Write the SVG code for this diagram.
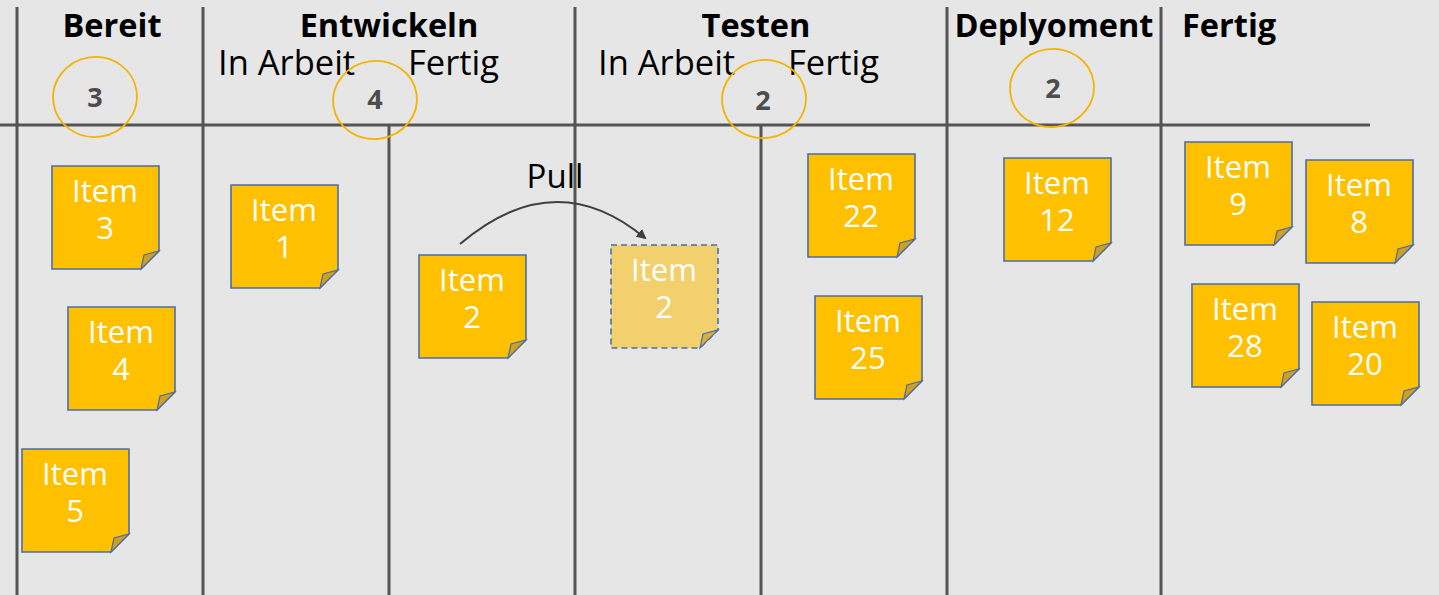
<svg xmlns="http://www.w3.org/2000/svg" width="1439" height="595" viewBox="0 0 1439 595">
<style>
.ln{stroke:#555;stroke-width:3;fill:none}
.hd{font-family:"Open Sans","Liberation Sans",sans-serif;font-weight:bold;font-size:32.5px;fill:#000}
.sub{font-family:"Open Sans","Liberation Sans",sans-serif;font-size:34.5px;fill:#000}
.wip{fill:none;stroke:#f5b400;stroke-width:1.8}
.wn{font-family:"Open Sans","Liberation Sans",sans-serif;font-weight:bold;font-size:27px;fill:#4d4d4d;text-anchor:middle}
.body{fill:#ffc000;stroke:#4b6ea8;stroke-width:1.6}
.fold{fill:#cfa022;stroke:#4b6ea8;stroke-width:1.2}
.ghost .body{fill:#f2d06e;stroke-dasharray:6 4}
.ghost .fold{fill:#d9b040}
.nt{font-family:"Open Sans","Liberation Sans",sans-serif;font-size:31px;fill:#fff;text-anchor:middle}
</style>
<defs>
<g id="note">
<path class="body" d="M0,0 H107 V85 L89,103 H0 Z"/>
<path class="fold" d="M89,103 L92,89 L107,85 Z"/>
</g>
<marker id="ah" markerWidth="10" markerHeight="10" refX="8" refY="5" orient="auto" markerUnits="userSpaceOnUse" viewBox="0 0 10 10">
<path d="M0,0 L10,5 L0,10 Z" fill="#404040"/>
</marker>
</defs>
<rect width="1439" height="595" fill="#e6e6e6"/>
<g id="grid">
<line class="ln" x1="0" y1="125" x2="1370" y2="125"/>
<line class="ln" x1="17" y1="7" x2="17" y2="595"/>
<line class="ln" x1="203" y1="7" x2="203" y2="595"/>
<line class="ln" x1="389" y1="125" x2="389" y2="595"/>
<line class="ln" x1="575" y1="7" x2="575" y2="595"/>
<line class="ln" x1="761" y1="125" x2="761" y2="595"/>
<line class="ln" x1="947" y1="7" x2="947" y2="595"/>
<line class="ln" x1="1161" y1="7" x2="1161" y2="595"/>
</g>
<g id="headers">
<text class="hd" x="112" y="37" text-anchor="middle">Bereit</text>
<text class="hd" x="389" y="37" text-anchor="middle">Entwickeln</text>
<text class="hd" x="756" y="37" text-anchor="middle">Testen</text>
<text class="hd" x="1054" y="37" text-anchor="middle">Deplyoment</text>
<text class="hd" x="1182" y="37">Fertig</text>
<text class="sub" x="218" y="75">In Arbeit</text>
<text class="sub" x="408" y="75">Fertig</text>
<text class="sub" x="598" y="75">In Arbeit</text>
<text class="sub" x="788" y="75">Fertig</text>
</g>
<g id="wip-limits">
<ellipse class="wip" cx="95" cy="97" rx="42" ry="40" transform="rotate(-8 95 97)"/>
<text class="wn" x="95" y="107">3</text>
<ellipse class="wip" cx="375" cy="100" rx="42" ry="39" transform="rotate(-8 375 100)"/>
<text class="wn" x="375" y="109">4</text>
<ellipse class="wip" cx="764" cy="99" rx="42" ry="39" transform="rotate(-8 764 99)"/>
<text class="wn" x="763" y="110">2</text>
<ellipse class="wip" cx="1052" cy="88" rx="42" ry="39" transform="rotate(-8 1052 88)"/>
<text class="wn" x="1053" y="98">2</text>
</g>
<g id="connectors">
<path d="M460,244 Q555,163 645,238" fill="none" stroke="#404040" stroke-width="2" marker-end="url(#ah)"/>
<text class="sub" x="555" y="188" text-anchor="middle" style="font-size:33px">Pull</text>
</g>
<g id="item3" transform="translate(52,166)"><use href="#note"/><text class="nt" x="53" y="36">Item</text><text class="nt" x="53" y="73">3</text></g>
<g id="item4" transform="translate(68,307)"><use href="#note"/><text class="nt" x="53" y="36">Item</text><text class="nt" x="53" y="73">4</text></g>
<g id="item5" transform="translate(22,449)"><use href="#note"/><text class="nt" x="53" y="36">Item</text><text class="nt" x="53" y="73">5</text></g>
<g id="item1" transform="translate(231,185)"><use href="#note"/><text class="nt" x="53" y="36">Item</text><text class="nt" x="53" y="73">1</text></g>
<g id="item2" transform="translate(419,255)"><use href="#note"/><text class="nt" x="53" y="36">Item</text><text class="nt" x="53" y="73">2</text></g>
<g id="item2-ghost" class="ghost" transform="translate(611,245)">
<path class="body" d="M0,0 H107 V85 L89,103 H0 Z"/>
<path class="fold" d="M89,103 L92,89 L107,85 Z"/>
<text class="nt" x="53" y="36">Item</text><text class="nt" x="53" y="73">2</text></g>
<g id="item22" transform="translate(808,154)"><use href="#note"/><text class="nt" x="53" y="36">Item</text><text class="nt" x="53" y="73">22</text></g>
<g id="item25" transform="translate(815,296)"><use href="#note"/><text class="nt" x="53" y="36">Item</text><text class="nt" x="53" y="73">25</text></g>
<g id="item12" transform="translate(1004,158)"><use href="#note"/><text class="nt" x="53" y="36">Item</text><text class="nt" x="53" y="73">12</text></g>
<g id="item9" transform="translate(1185,142)"><use href="#note"/><text class="nt" x="53" y="36">Item</text><text class="nt" x="53" y="73">9</text></g>
<g id="item8" transform="translate(1306,160)"><use href="#note"/><text class="nt" x="53" y="36">Item</text><text class="nt" x="53" y="73">8</text></g>
<g id="item28" transform="translate(1192,284)"><use href="#note"/><text class="nt" x="53" y="36">Item</text><text class="nt" x="53" y="73">28</text></g>
<g id="item20" transform="translate(1312,302)"><use href="#note"/><text class="nt" x="53" y="36">Item</text><text class="nt" x="53" y="73">20</text></g>
</svg>
